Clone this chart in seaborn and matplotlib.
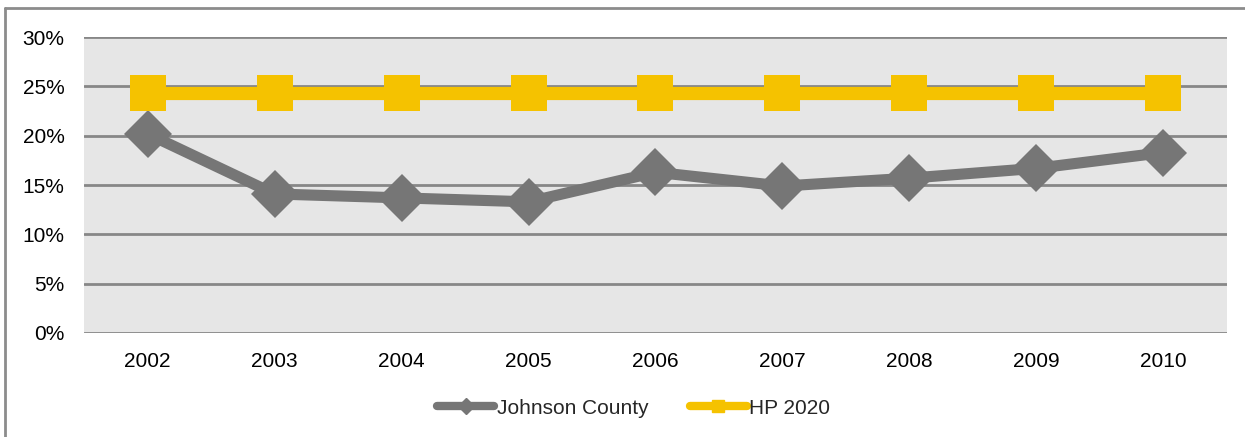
import pandas as pd
import matplotlib.pyplot as plt
import seaborn as sns
from matplotlib.lines import Line2D
from matplotlib.ticker import PercentFormatter

# Data
years = ['2002', '2003', '2004', '2005', '2006', '2007', '2008', '2009', '2010']
johnson_county = [20.2, 14.1, 13.7, 13.3, 16.3, 14.9, 15.7, 16.7, 18.3]
hp_2020 = [24.3, 24.3, 24.3, 24.3, 24.3, 24.3, 24.3, 24.3, 24.3]

gray = '#767676'
gold = '#F5C200'

sns.set_theme(style='white')
plt.rcParams['font.family'] = ['Liberation Sans', 'DejaVu Sans']

df = pd.DataFrame({'year': years, 'Johnson County': johnson_county, 'HP 2020': hp_2020})
df['x'] = range(len(years))

fig = plt.figure(figsize=(12.45, 4.37), dpi=100)
ax = fig.add_axes([0.0675, 0.238, 0.918, 0.677])
ax.set_facecolor('#E6E6E6')

# Draw lines
sns.lineplot(data=df, x='x', y='Johnson County', ax=ax, color=gray, linewidth=8,
             marker='D', markersize=24, markeredgewidth=0, zorder=3)
sns.lineplot(data=df, x='x', y='HP 2020', ax=ax, color=gold, linewidth=9.5,
             marker='s', markersize=26, markeredgewidth=0, zorder=4)

ax.set_xlim(-0.5, len(years) - 0.5)
ax.set_ylim(0, 30)
ax.set_yticks(range(0, 31, 5))
ax.yaxis.set_major_formatter(PercentFormatter(decimals=0))
ax.set_xticks(df['x'])
ax.set_xticklabels(years)
ax.set_xlabel('')
ax.set_ylabel('')
ax.grid(axis='y', color='#878787', linewidth=2)
ax.set_axisbelow(True)
for s in ax.spines.values():
    s.set_visible(False)
ax.tick_params(axis='both', length=0, labelsize=15, colors='black')
ax.tick_params(axis='x', pad=14)
ax.tick_params(axis='y', pad=14)

# Legend with small markers
handles = [
    Line2D([], [], color=gray, linewidth=6, marker='D', markersize=8, solid_capstyle='round'),
    Line2D([], [], color=gold, linewidth=6, marker='s', markersize=8, solid_capstyle='round'),
]
fig.legend(handles, ['Johnson County', 'HP 2020'], loc='center', bbox_to_anchor=(0.509, 0.066),
           ncol=2, frameon=False, fontsize=15, handlelength=2.75, handletextpad=0.1,
           columnspacing=2.0)

# Outer frame
fig.add_artist(Line2D([5 / 1245, 5 / 1245], [0, 1 - 8 / 437], color='#8C8C8C', linewidth=2,
                      transform=fig.transFigure))
fig.add_artist(Line2D([5 / 1245, 1], [1 - 8 / 437, 1 - 8 / 437], color='#8C8C8C', linewidth=2,
                      transform=fig.transFigure))

plt.savefig('out.png', dpi=100)
plt.close()
